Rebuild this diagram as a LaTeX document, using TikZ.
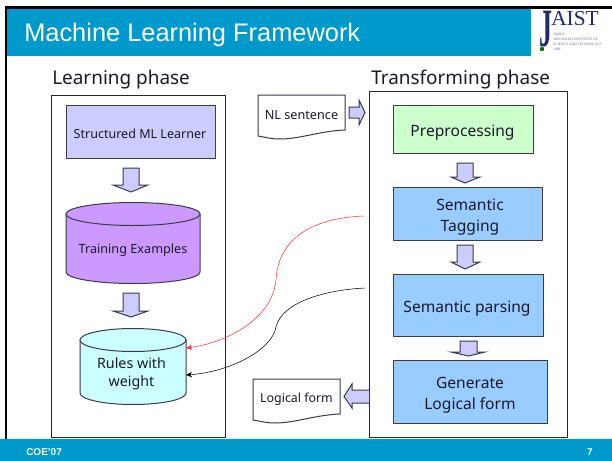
\documentclass[tikz,border=0pt]{standalone}
\usepackage{fontspec}
\setmainfont{Noto Sans}
\newfontfamily\titlefont{Liberation Sans}
\newfontfamily\logofont{Liberation Serif}
\definecolor{banner}{HTML}{0099CC}
\definecolor{lilac}{HTML}{CCCCFF}
\definecolor{purp}{HTML}{CC99FF}
\definecolor{aqua}{HTML}{CCFFFF}
\definecolor{mint}{HTML}{CCFFCC}
\definecolor{sky}{HTML}{99CCFF}
\definecolor{edge}{HTML}{3A3A48}
\definecolor{inktext}{HTML}{1A1A2A}
\definecolor{navy}{HTML}{1F2A6B}
\usetikzlibrary{arrows.meta}
\tikzset{
  stagebox/.style={draw=edge,line width=0.75pt,inner sep=0pt},
  plain/.style={inner sep=0pt,text=inktext,align=center},
  stagetext/.style={plain,font=\fontsize{11.7}{15.7}\selectfont},
  smalltext/.style={plain,font=\fontsize{9.4}{13}\selectfont},
  frame/.style={draw=black!85,line width=0.75pt},
  blockarrow/.style={draw=edge,fill=lilac,line width=0.75pt,line join=miter},
  phase/.style={inner sep=0pt,text=inktext,font=\fontsize{14.2}{16}\selectfont},
  link/.style={line width=0.4pt,-{Stealth[length=4.5pt,width=4pt]}},
}
% #1 shaft left, #2 shaft right, #3 top, #4 neck, #5 head left, #6 head right, #7 tip
\newcommand{\blockdown}[7]{\draw[blockarrow] (#1,#3) -- (#2,#3) -- (#2,#4) -- (#6,#4) -- ({(#1+#2)/2},#7) -- (#5,#4) -- (#1,#4) -- cycle;}
% #1 left #2 right #3 top #4 side end #5 ellipse half height #6 fill
\newcommand{\drum}[6]{%
  \draw[draw=edge,line width=0.75pt,fill=#6] (#1,#3) -- (#1,#4) arc[start angle=180,end angle=0,x radius={(#2-#1)/2},y radius=#5] -- (#2,#3) -- cycle;
  \draw[draw=edge,line width=0.75pt,fill=#6] ({(#1+#2)/2},#3) ellipse[x radius={(#2-#1)/2},y radius=#5];}
\begin{document}
\begin{tikzpicture}[x=0.75pt,y=-0.75pt]
\useasboundingbox (0,0) rectangle (612,461);
\fill[white] (0,0) rectangle (612,461);
% slide chrome
\fill[banner] (7,9) rectangle (531,56);
\fill[banner] (0,439) rectangle (612,461);
\fill[black] (5,6) rectangle (612,9);
\fill[black] (5,6) rectangle (7,439);
\node[anchor=west,inner sep=0pt,text=white,font=\titlefont\fontsize{19.05}{21}\selectfont] (title) at (24,34.5) {Machine Learning Framework};
\node[anchor=west,inner sep=0pt,text=white,font=\titlefont\bfseries\fontsize{7.5}{9}\selectfont] (foot) at (26,452) {COE’07};
\node[inner sep=0pt,text=white,font=\titlefont\bfseries\fontsize{7.5}{9}\selectfont] (pageno) at (590,452) {7};
% logo
\node[anchor=north west,inner sep=0pt,text=navy,font=\logofont\bfseries\fontsize{27}{28}\selectfont] (logoj) at (539,11) {\scalebox{0.72}[1.5]{J}};
\node[anchor=north west,inner sep=0pt,text=navy,font=\logofont\fontsize{16}{17}\selectfont] (logo) at (551,11) {AIST};
\fill[green!45!black] (542,49) circle (2.2);
\node[anchor=north west,inner sep=0pt,align=left,text=navy!70,font=\logofont\fontsize{2.7}{3.7}\selectfont] (logosub) at (553,33) {JAPAN\\ADVANCED INSTITUTE OF\\SCIENCE AND TECHNOLOGY\\1990};
% phases
\node[phase,anchor=west] (lphase) at (52,80) {Learning phase};
\node[phase,anchor=west] (tphase) at (371,80) {Transforming phase};
\draw[frame] (51,95) rectangle (225,437);
\draw[frame] (369,91) rectangle (567,437);
% learning column
\node[stagebox,fill=lilac,minimum width=149*0.75pt,minimum height=53*0.75pt] (learner) at (140.5,131.5) {};
\node[smalltext] (learnertext) at (140,134) {Structured ML Learner};
\blockdown{123}{139}{168}{185}{113}{148}{192}
\drum{66}{200}{214}{272}{11.5}{purp}
\node[plain,font=\fontsize{9.5}{13}\selectfont] (train) at (133,250.5) {Training Examples};
\blockdown{123}{139}{293}{311}{113}{148}{317}
\drum{80}{186}{340}{393}{11.5}{aqua}
\node[plain,font=\fontsize{10.7}{13.6}\selectfont] (rules) at (131.5,374) {Rules with\\weight};
% documents
\draw[draw=edge,line width=0.75pt,fill=white] (258,95) -- (345,95) -- (345,130) .. controls (320,131) and (300,139) .. (280,139) .. controls (270,139) and (265,137) .. (258,136) -- cycle;
\node[plain,font=\fontsize{9.5}{12}\selectfont] (nl) at (301.5,115) {NL sentence};
\draw[draw=edge,line width=0.75pt,fill=white] (253,379) -- (340,379) -- (340,414) .. controls (315,415) and (295,423) .. (275,423) .. controls (265,423) and (260,421) .. (253,420) -- cycle;
\node[plain,font=\fontsize{9.3}{12}\selectfont] (lf) at (296.5,399) {Logical form};
\draw[blockarrow] (349,107) -- (359,107) -- (359,100) -- (365,112.5) -- (359,125) -- (359,118) -- (349,118) -- cycle;
\draw[blockarrow] (369,390) -- (352,390) -- (352,384) -- (344,396.5) -- (352,408) -- (352,403) -- (369,403);
% transforming column
\node[stagebox,fill=mint,minimum width=140*0.75pt,minimum height=48*0.75pt] (pre) at (463,129) {};
\node[stagetext] (pretext) at (462.5,132.5) {Preprocessing};
\blockdown{457}{473}{163}{177}{451}{480}{183}
\node[stagebox,fill=sky,minimum width=149*0.75pt,minimum height=53*0.75pt] (tag) at (467.5,213.5) {};
\node[stagetext] (tagtext) at (470,217) {Semantic\\Tagging};
\blockdown{457}{473}{245}{262}{451}{480}{269}
\node[stagebox,fill=sky,minimum width=150*0.75pt,minimum height=62*0.75pt] (parse) at (468,305) {};
\node[stagetext] (parsetext) at (467,308.5) {Semantic parsing};
\blockdown{460}{477}{341}{352}{451}{485}{356}
\node[stagebox,fill=sky,minimum width=154*0.75pt,minimum height=63*0.75pt] (gen) at (470,391.5) {};
\node[stagetext] (gentext) at (470,395) {Generate\\Logical form};
% curved links
\coordinate (redfrom) at (364,216);
\coordinate (redto) at (186,348);
\coordinate (blackfrom) at (365,288);
\coordinate (blackto) at (186,375);
\draw[link,draw=red!80] (redfrom) .. controls (310,218) and (278,240) .. (276,280) .. controls (272,320) and (225,343) .. (redto);
\draw[link,draw=black] (blackfrom) .. controls (325,290) and (282,302) .. (276,327) .. controls (272,350) and (230,372) .. (blackto);
\end{tikzpicture}
\end{document}
